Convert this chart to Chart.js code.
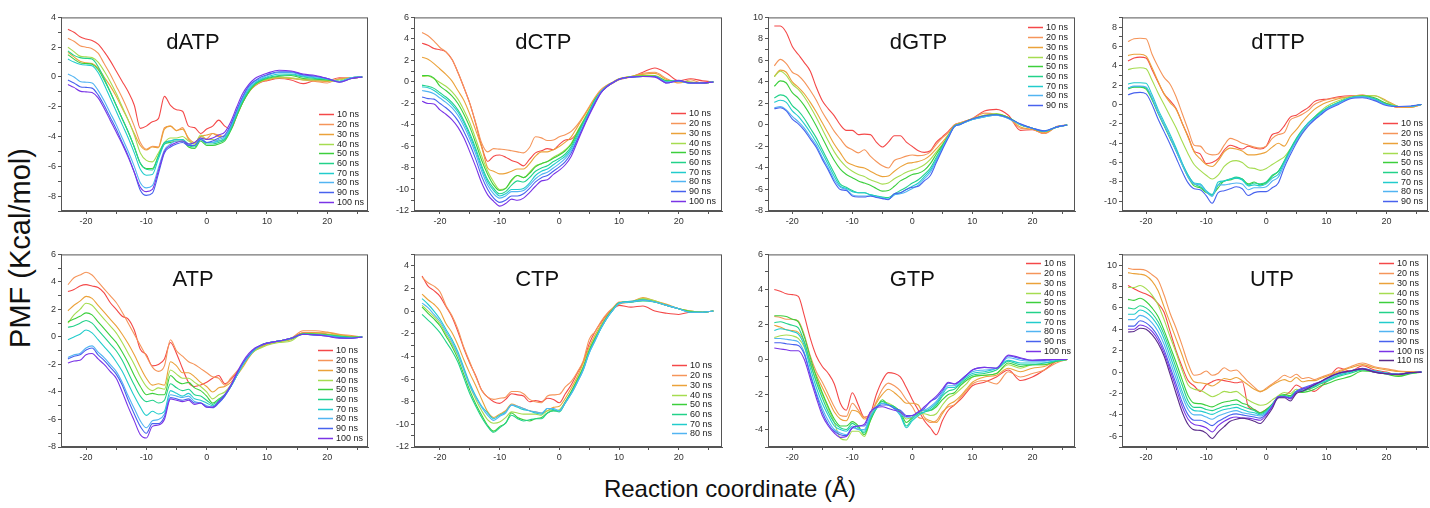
<!DOCTYPE html>
<html>
<head>
<meta charset="utf-8">
<script src="https://cdn.jsdelivr.net/npm/chart.js@4.4.0/dist/chart.umd.min.js"></script>
<style>
  body { margin: 0; width: 1430px; height: 508px; background: #fff; position: relative; overflow: hidden; font-family: Arial, "Liberation Sans", sans-serif; }
  canvas { position: absolute; }
  #ylab { position: absolute; left: 20px; top: 248px; transform: translate(-50%, -50%) rotate(-90deg); font-size: 29px; white-space: nowrap; color: #111; }
  #xlab { position: absolute; left: 730px; top: 489px; transform: translate(-50%, -50%); font-size: 24px; white-space: nowrap; color: #111; }
</style>
</head>
<body>
<div id="ylab">PMF (Kcal/mol)</div>
<div id="xlab">Reaction coordinate (Å)</div>
<script>
// reaction coordinate (Å) shared by every curve
const xs = [-23,-22,-21,-20,-19,-18,-17,-16,-15,-14, -13,-12,-11,-10,-9,-8,-7,-6,-5,-4, -3,-2,-1,0,1,2,3,4,5,6, 7,8,9,10,12,14,16,18,20,22,24,25.8];

const nsLabels = ['10 ns','20 ns','30 ns','40 ns','50 ns','60 ns','70 ns','80 ns','90 ns','100 ns','110 ns'];

// PMF (kcal/mol), one row per simulation length
const dATP = [
  [3.2,3.0,2.7,2.55,2.45,2.2,1.7,1.1,0.4,-0.3, -1.0,-1.9,-3.45,-3.3,-3.0,-2.8,-1.3,-1.9,-2.2,-2.3, -3.3,-3.4,-3.8,-3.5,-3.3,-2.9,-3.3,-3.5,-2.6,-1.7, -1.0,-0.6,-0.35,-0.25,-0.1,-0.2,-0.45,-0.25,-0.25,-0.05,-0.1,0],
  [2.6,2.4,2.1,2.0,1.9,1.6,0.9,0.2,-0.6,-1.4, -2.3,-3.3,-4.4,-4.85,-4.65,-4.7,-3.4,-3.3,-3.6,-3.4, -4.2,-4.5,-4.0,-4.15,-3.8,-3.9,-4.0,-3.4,-2.5,-1.6, -1.0,-0.55,-0.3,-0.2,0.0,-0.1,-0.2,-0.3,-0.4,-0.1,-0.05,0],
  [1.65,1.35,1.05,0.95,0.9,0.6,0.0,-0.6,-1.3,-2.1, -2.9,-3.8,-4.6,-4.9,-4.7,-4.75,-3.5,-3.3,-3.6,-3.5, -4.1,-4.4,-4.0,-3.9,-3.8,-4.0,-4.0,-3.4,-2.5,-1.6, -1.0,-0.55,-0.3,-0.2,-0.05,-0.1,-0.15,-0.25,-0.3,-0.15,-0.05,0],
  [2.0,1.7,1.4,1.35,1.3,1.0,0.4,-0.3,-1.1,-2.0, -2.9,-3.9,-5.1,-5.6,-5.7,-5.1,-4.4,-4.1,-4.1,-4.0, -4.3,-4.5,-3.9,-4.2,-4.2,-4.3,-4.2,-3.5,-2.6,-1.7, -1.0,-0.55,-0.3,-0.15,-0.05,-0.05,-0.2,-0.2,-0.25,-0.2,-0.05,0],
  [1.5,1.2,0.95,0.9,0.85,0.5,-0.2,-1.0,-1.9,-2.8, -3.7,-4.7,-5.8,-6.15,-6.15,-5.3,-4.5,-4.4,-4.3,-4.3, -4.7,-4.8,-4.3,-4.6,-4.6,-4.5,-4.3,-3.6,-2.6,-1.7, -1.0,-0.5,-0.25,-0.1,0.05,0.1,-0.1,-0.15,-0.2,-0.3,-0.1,0],
  [1.75,1.45,1.3,1.25,1.2,0.7,-0.1,-1.0,-1.9,-2.8, -3.7,-4.7,-5.8,-6.2,-6.25,-5.3,-4.4,-4.3,-4.2,-4.2, -4.6,-4.7,-4.2,-4.5,-4.5,-4.4,-4.2,-3.5,-2.5,-1.6, -0.9,-0.45,-0.2,-0.05,0.1,0.15,0.0,-0.1,-0.15,-0.3,-0.05,0],
  [1.2,1.0,0.85,0.8,0.75,0.3,-0.5,-1.4,-2.3,-3.2, -4.1,-5.1,-6.2,-6.6,-6.55,-5.5,-4.5,-4.3,-4.2,-4.2, -4.5,-4.6,-4.1,-4.4,-4.4,-4.3,-4.1,-3.4,-2.4,-1.5, -0.8,-0.4,-0.15,0.0,0.2,0.2,0.05,-0.05,-0.15,-0.3,-0.05,0],
  [0.2,0.0,-0.3,-0.35,-0.4,-0.9,-1.6,-2.4,-3.2,-4.1, -5.0,-6.0,-7.1,-7.45,-7.3,-6.1,-4.9,-4.5,-4.3,-4.3, -4.6,-4.6,-4.2,-4.4,-4.4,-4.2,-4.0,-3.3,-2.3,-1.4, -0.7,-0.3,-0.1,0.1,0.3,0.3,0.1,0.0,-0.1,-0.3,-0.05,0],
  [-0.2,-0.4,-0.65,-0.7,-0.75,-1.2,-1.9,-2.7,-3.5,-4.4, -5.3,-6.4,-7.6,-7.95,-7.8,-6.5,-5.1,-4.7,-4.5,-4.4, -4.6,-4.6,-4.2,-4.4,-4.3,-4.1,-3.9,-3.2,-2.2,-1.3, -0.6,-0.25,0.0,0.15,0.35,0.35,0.15,0.05,-0.1,-0.35,-0.1,0],
  [-0.5,-0.7,-0.95,-1.0,-1.05,-1.4,-2.1,-2.9,-3.7,-4.5, -5.4,-6.4,-7.4,-7.7,-7.55,-6.3,-5.0,-4.6,-4.4,-4.3, -4.5,-4.4,-4.1,-4.2,-4.1,-3.9,-3.7,-3.0,-2.0,-1.1, -0.5,-0.1,0.1,0.25,0.45,0.4,0.2,0.1,-0.1,-0.35,-0.1,0]
];

const dCTP = [
  [3.6,3.4,3.1,3.0,2.8,2.1,0.9,-0.5,-2.0,-3.9, -6.0,-7.4,-6.9,-6.8,-7.0,-7.3,-7.5,-7.8,-7.2,-6.6, -6.4,-6.2,-6.3,-5.8,-5.4,-5.3,-4.7,-3.8,-2.8,-1.8, -0.9,-0.4,-0.1,0.2,0.45,0.9,1.3,0.8,0.1,0.3,0.1,0],
  [4.6,4.3,3.8,3.2,2.8,2.1,0.9,-0.5,-2.0,-3.8, -5.7,-6.5,-6.2,-6.25,-6.3,-6.4,-6.5,-6.6,-6.1,-5.1, -5.2,-5.45,-5.4,-5.1,-4.9,-4.6,-4.0,-3.2,-2.3,-1.4, -0.7,-0.3,0.0,0.3,0.5,0.8,0.9,0.3,-0.1,0.2,-0.1,0],
  [2.3,2.1,1.7,1.2,0.7,0.1,-0.8,-1.7,-3.0,-4.5, -6.1,-8.0,-8.3,-8.55,-8.5,-8.3,-8.1,-8.1,-7.6,-6.9, -6.5,-6.5,-6.3,-6.0,-5.6,-5.1,-4.2,-3.3,-2.4,-1.5, -0.8,-0.3,0.0,0.3,0.5,0.7,0.8,0.2,0.0,0.0,-0.1,0],
  [0.5,0.55,0.3,-0.05,-0.4,-0.9,-1.6,-2.6,-3.8,-5.3, -6.9,-8.3,-9.3,-10.0,-9.9,-9.2,-8.7,-8.9,-8.4,-7.8, -7.6,-7.4,-7.0,-6.7,-6.3,-5.7,-4.6,-3.6,-2.6,-1.6, -0.9,-0.4,-0.05,0.25,0.5,0.6,0.6,0.1,0.05,0.0,-0.1,0],
  [0.6,0.6,0.35,-0.4,-0.8,-1.3,-2.0,-3.0,-4.2,-5.7, -7.3,-8.6,-9.6,-10.1,-9.9,-9.1,-8.7,-8.9,-8.5,-7.9, -7.6,-7.4,-7.1,-6.8,-6.4,-5.8,-4.7,-3.7,-2.7,-1.6, -0.9,-0.4,-0.05,0.25,0.5,0.55,0.55,0.1,0.1,-0.05,-0.1,0],
  [-0.3,-0.4,-0.6,-1.0,-1.4,-1.9,-2.6,-3.6,-4.8,-6.2, -7.8,-9.1,-9.9,-10.4,-10.2,-9.6,-9.2,-9.3,-8.9,-8.3, -8.0,-7.8,-7.4,-7.1,-6.7,-6.0,-4.9,-3.8,-2.7,-1.7, -0.9,-0.4,-0.05,0.25,0.45,0.5,0.5,0.05,0.1,-0.1,-0.1,0],
  [-0.45,-0.55,-0.8,-1.2,-1.6,-2.1,-2.8,-3.8,-5.0,-6.4, -8.0,-9.3,-10.1,-10.6,-10.4,-10.0,-10.0,-9.9,-9.4,-8.7, -8.3,-8.1,-7.7,-7.3,-6.9,-6.2,-5.1,-3.9,-2.8,-1.7, -0.9,-0.4,-0.05,0.25,0.45,0.5,0.5,0.0,0.1,-0.15,-0.1,0],
  [-0.8,-0.9,-1.1,-1.5,-1.9,-2.4,-3.1,-4.1,-5.3,-6.7, -8.3,-9.6,-10.4,-10.8,-10.6,-10.2,-10.2,-10.1,-9.6,-9.0, -8.6,-8.4,-8.0,-7.6,-7.1,-6.4,-5.3,-4.1,-2.9,-1.8, -0.9,-0.4,-0.05,0.25,0.45,0.5,0.5,0.0,0.1,-0.15,-0.1,0],
  [-1.4,-1.55,-1.6,-2.0,-2.4,-2.9,-3.6,-4.6,-5.8,-7.2, -8.8,-10.0,-10.8,-11.2,-11.0,-10.6,-10.6,-10.4,-9.9,-9.3, -8.9,-8.7,-8.3,-7.9,-7.4,-6.6,-5.4,-4.2,-3.0,-1.9, -1.0,-0.4,-0.05,0.25,0.45,0.5,0.5,-0.1,0.1,-0.1,-0.1,0],
  [-1.8,-2.0,-2.05,-2.6,-3.0,-3.5,-4.2,-5.2,-6.5,-7.9, -9.4,-10.5,-11.1,-11.55,-11.3,-10.9,-11.0,-10.8,-10.3,-9.7, -9.2,-9.1,-8.6,-8.2,-7.7,-6.9,-5.6,-4.3,-3.1,-2.0, -1.0,-0.45,-0.05,0.25,0.45,0.5,0.45,-0.1,0.15,-0.1,-0.1,0]
];

const dGTP = [
  [9.2,9.2,8.6,7.3,6.55,5.8,5.0,3.5,2.25,1.5, 0.85,0.0,-0.5,-0.5,-0.9,-0.85,-0.9,-1.6,-2.05,-1.6, -1.0,-1.0,-1.6,-2.0,-2.4,-2.55,-2.4,-1.6,-1.1,-0.6, 0.0,0.2,0.4,0.6,1.3,1.45,0.9,-0.5,-0.45,-0.8,-0.15,0],
  [5.5,6.1,5.7,4.9,4.6,4.0,3.2,2.3,1.2,0.3, -0.6,-1.3,-2.0,-2.3,-2.6,-2.3,-2.9,-3.4,-3.8,-4.0, -3.3,-3.1,-2.9,-2.8,-2.85,-2.8,-2.5,-1.8,-1.2,-0.7, 0.0,0.2,0.4,0.6,1.1,1.0,0.7,-0.3,-0.4,-0.8,-0.2,0],
  [4.5,5.1,4.9,4.0,3.5,2.9,2.1,1.2,0.2,-0.8, -1.8,-2.6,-3.4,-3.7,-3.9,-4.0,-4.3,-4.6,-4.8,-4.75, -4.3,-3.9,-3.6,-3.5,-3.4,-3.2,-2.8,-2.2,-1.6,-0.9, -0.1,0.1,0.35,0.55,0.9,1.0,0.7,-0.2,-0.4,-0.7,-0.2,0],
  [4.5,5.0,4.6,3.8,3.3,2.6,1.7,0.7,-0.4,-1.5, -2.5,-3.3,-3.9,-4.3,-4.6,-4.8,-5.1,-5.3,-5.5,-5.4, -5.0,-4.7,-4.4,-4.2,-4.0,-3.7,-3.2,-2.5,-1.8,-1.0, -0.1,0.1,0.35,0.55,0.9,1.05,0.7,0.0,-0.3,-0.6,-0.2,0],
  [3.6,4.1,3.9,3.0,2.5,1.8,0.9,-0.1,-1.2,-2.3, -3.3,-4.1,-4.6,-4.9,-5.2,-5.4,-5.6,-5.9,-6.15,-6.1, -5.7,-5.2,-4.9,-4.6,-4.5,-4.2,-3.6,-2.7,-1.9,-1.0, -0.1,0.1,0.35,0.55,0.85,1.0,0.7,0.05,-0.3,-0.6,-0.2,0],
  [2.5,2.8,2.6,1.8,1.3,0.6,-0.3,-1.2,-2.3,-3.4, -4.5,-5.5,-5.8,-6.1,-6.3,-6.3,-6.5,-6.6,-6.7,-6.75, -6.4,-6.1,-5.8,-5.4,-5.1,-4.6,-4.0,-3.0,-2.0,-1.0, -0.1,0.1,0.3,0.5,0.8,0.95,0.65,0.05,-0.3,-0.6,-0.2,0],
  [2.1,2.3,2.1,1.3,0.8,0.1,-0.7,-1.6,-2.6,-3.7, -4.8,-5.7,-5.9,-6.2,-6.3,-6.3,-6.5,-6.6,-6.75,-6.9, -6.5,-6.3,-6.0,-5.7,-5.4,-4.8,-4.2,-3.2,-2.1,-1.1, -0.15,0.05,0.3,0.5,0.75,0.9,0.6,0.05,-0.3,-0.6,-0.2,0],
  [1.6,1.7,1.4,0.8,0.3,-0.3,-1.1,-1.9,-3.0,-4.0, -5.1,-5.8,-6.0,-6.5,-6.6,-6.6,-6.6,-6.7,-6.8,-6.9, -6.5,-6.4,-6.2,-5.9,-5.6,-5.0,-4.4,-3.3,-2.2,-1.1, -0.15,0.05,0.3,0.5,0.75,0.9,0.6,0.05,-0.3,-0.55,-0.2,0],
  [1.5,1.6,1.3,0.55,0.1,-0.5,-1.3,-2.1,-3.2,-4.2, -5.3,-6.0,-6.1,-6.6,-6.7,-6.7,-6.6,-6.75,-6.85,-6.95, -6.4,-6.3,-6.0,-5.8,-5.7,-5.2,-4.7,-3.5,-2.3,-1.2, -0.15,0.05,0.35,0.55,0.85,0.95,0.65,0.1,-0.3,-0.55,-0.2,0]
];

const dTTP = [
  [4.5,4.8,4.9,4.8,3.6,2.3,1.1,0.4,-0.4,-1.9, -3.3,-4.8,-5.1,-6.1,-6.0,-5.6,-4.7,-4.2,-4.4,-4.6, -4.3,-4.5,-4.6,-4.3,-3.1,-2.9,-2.2,-1.3,-1.1,-0.7, -0.3,0.3,0.5,0.55,0.8,0.9,0.9,0.5,0.1,-0.3,-0.2,0],
  [6.5,6.8,6.85,6.8,5.2,3.9,2.8,2.1,0.8,-0.9, -2.6,-4.2,-4.3,-5.0,-5.2,-5.1,-4.2,-3.5,-3.7,-4.0, -4.2,-4.4,-4.5,-4.3,-3.5,-3.1,-2.9,-1.6,-1.3,-1.0, -0.6,0.0,0.3,0.5,0.7,0.8,1.0,0.6,0.1,-0.3,-0.3,0],
  [5.05,5.2,5.2,5.0,3.8,2.4,1.1,0.2,-0.5,-1.9, -3.4,-4.9,-5.6,-6.2,-6.4,-5.8,-4.9,-4.5,-4.6,-4.8, -5.2,-5.2,-5.1,-4.9,-4.4,-4.0,-4.3,-3.3,-2.6,-1.8, -1.1,-0.5,-0.1,0.2,0.6,0.8,0.9,0.9,0.4,-0.2,-0.3,0],
  [3.6,3.75,3.8,3.7,2.5,1.2,0.0,-1.2,-2.4,-3.8, -5.1,-6.2,-6.8,-7.3,-7.7,-7.3,-6.4,-5.9,-5.8,-6.0, -6.5,-6.6,-6.8,-6.6,-6.2,-5.8,-5.4,-4.6,-3.8,-2.9, -2.0,-1.3,-0.7,-0.2,0.4,0.8,0.9,0.9,0.3,-0.2,-0.2,0],
  [1.6,1.8,1.8,1.6,0.5,-0.9,-2.2,-3.5,-4.8,-6.2, -7.5,-8.4,-8.6,-9.1,-9.3,-8.6,-7.9,-7.8,-7.6,-7.7, -8.2,-8.0,-8.3,-8.1,-7.4,-6.9,-5.9,-4.7,-3.6,-2.7, -1.9,-1.4,-0.9,-0.4,0.2,0.7,0.9,0.7,0.1,-0.2,-0.2,0],
  [1.7,1.85,1.85,1.7,0.6,-0.8,-2.1,-3.4,-4.7,-6.1, -7.3,-8.2,-8.5,-9.0,-9.4,-8.3,-7.9,-7.7,-7.5,-7.7, -8.3,-8.1,-8.2,-8.0,-7.3,-6.9,-5.8,-4.6,-3.5,-2.6, -1.9,-1.3,-0.8,-0.4,0.2,0.7,0.8,0.6,0.0,-0.2,-0.2,0],
  [2.1,2.25,2.25,2.2,1.0,-0.5,-1.8,-3.1,-4.5,-6.0, -7.3,-8.1,-8.2,-8.9,-9.3,-8.0,-7.9,-7.7,-7.6,-7.8, -8.4,-8.3,-8.4,-8.2,-7.6,-7.2,-6.0,-4.8,-3.7,-2.7, -1.9,-1.4,-0.9,-0.4,0.2,0.7,0.8,0.6,0.0,-0.2,-0.2,0],
  [1.7,1.9,1.9,1.8,0.7,-0.8,-2.1,-3.4,-4.8,-6.2, -7.5,-8.2,-8.3,-9.0,-9.5,-8.3,-8.3,-8.2,-8.1,-8.2, -8.8,-8.6,-8.6,-8.5,-7.9,-7.5,-6.2,-4.9,-3.8,-2.8, -2.0,-1.5,-1.0,-0.5,0.1,0.65,0.8,0.5,-0.05,-0.2,-0.2,0],
  [1.0,1.2,1.25,1.1,0.0,-1.5,-2.8,-4.1,-5.5,-6.9, -8.1,-8.7,-8.8,-9.4,-10.2,-9.1,-8.9,-8.7,-8.5,-8.7, -9.4,-9.1,-9.0,-9.0,-8.6,-8.1,-6.5,-5.2,-4.0,-3.0, -2.2,-1.6,-1.1,-0.6,0.0,0.6,0.7,0.4,-0.1,-0.2,-0.15,0]
];

const ATP = [
  [3.3,3.45,3.7,3.8,3.7,3.6,3.2,2.5,2.0,1.5, 1.3,0.5,-0.9,-1.3,-2.1,-2.0,-1.6,-0.4,-1.2,-2.3, -3.3,-3.6,-3.5,-3.3,-3.0,-2.8,-3.4,-3.1,-2.6,-2.0, -1.4,-0.9,-0.7,-0.5,-0.3,-0.1,0.3,0.3,0.2,0.1,0.0,0],
  [3.8,4.3,4.5,4.7,4.5,4.0,3.5,3.0,2.5,1.8, 1.0,0.2,-0.6,-1.4,-2.2,-2.5,-2.1,-0.2,-1.0,-1.4, -1.8,-2.0,-2.3,-2.6,-2.9,-3.0,-3.5,-3.0,-2.5,-2.0, -1.4,-0.9,-0.7,-0.5,-0.3,-0.1,0.45,0.45,0.35,0.2,0.1,0],
  [1.9,2.3,2.6,2.95,2.8,2.3,1.8,1.3,0.8,0.2, -0.5,-1.3,-2.2,-3.0,-3.5,-3.4,-3.5,-1.8,-2.1,-2.6, -2.6,-2.9,-3.3,-3.6,-4.0,-3.7,-3.6,-3.3,-2.8,-2.2, -1.5,-1.0,-0.75,-0.55,-0.35,-0.2,0.3,0.3,0.3,0.15,0.05,0],
  [1.0,1.6,2.0,2.45,2.3,1.8,1.3,0.8,0.3,-0.4, -1.2,-2.0,-2.9,-3.6,-3.9,-3.7,-3.8,-2.4,-2.7,-3.0, -3.0,-3.3,-3.6,-4.0,-4.5,-4.2,-4.0,-3.5,-2.8,-2.1, -1.4,-1.0,-0.8,-0.6,-0.4,-0.3,0.25,0.25,0.2,0.1,0.0,0],
  [1.1,1.3,1.5,1.75,1.6,1.1,0.6,0.1,-0.4,-1.1, -1.9,-2.8,-3.6,-4.2,-4.1,-4.2,-4.2,-2.8,-3.2,-3.4, -3.3,-3.7,-3.9,-4.3,-4.8,-4.5,-4.2,-3.6,-2.8,-2.0, -1.4,-0.9,-0.6,-0.45,-0.3,-0.1,0.25,0.2,0.15,0.05,0.0,0],
  [0.7,0.8,1.0,1.2,1.0,0.5,0.0,-0.5,-1.0,-1.7, -2.6,-3.5,-4.3,-4.7,-4.6,-4.8,-4.6,-3.4,-3.7,-3.9, -3.8,-4.2,-4.3,-4.6,-4.9,-4.6,-4.2,-3.6,-2.8,-2.0, -1.4,-0.9,-0.65,-0.45,-0.3,-0.15,0.2,0.2,0.1,0.05,-0.05,0],
  [-0.2,0.0,0.2,0.5,0.3,-0.2,-0.7,-1.2,-1.8,-2.5, -3.4,-4.3,-5.1,-5.7,-5.4,-5.6,-5.4,-3.9,-4.1,-4.3, -4.1,-4.5,-4.6,-4.8,-5.0,-4.7,-4.2,-3.6,-2.8,-2.0, -1.4,-0.9,-0.6,-0.45,-0.3,-0.1,0.2,0.15,0.1,0.0,-0.05,0],
  [-1.5,-1.3,-1.2,-0.8,-0.65,-1.1,-1.5,-2.0,-2.5,-3.3, -4.3,-5.2,-6.1,-6.6,-6.1,-6.0,-5.6,-4.2,-4.3,-4.4, -4.3,-4.7,-4.8,-5.0,-5.1,-4.8,-4.3,-3.6,-2.8,-2.0, -1.4,-0.9,-0.6,-0.45,-0.3,-0.1,0.2,0.15,0.1,-0.05,-0.1,0],
  [-1.6,-1.4,-1.3,-0.95,-0.8,-1.3,-1.7,-2.2,-2.7,-3.5, -4.6,-5.6,-6.5,-7.0,-6.3,-6.3,-5.8,-4.4,-4.5,-4.6, -4.5,-4.8,-4.8,-5.1,-5.15,-4.8,-4.3,-3.6,-2.7,-1.9, -1.3,-0.85,-0.6,-0.45,-0.3,-0.1,0.2,0.15,0.05,-0.05,-0.1,0],
  [-1.9,-1.75,-1.7,-1.3,-1.2,-1.6,-2.0,-2.5,-3.0,-4.0, -5.1,-6.1,-7.1,-7.35,-6.5,-6.4,-6.0,-4.5,-4.6,-4.7, -4.6,-4.9,-4.8,-5.1,-5.1,-4.7,-4.2,-3.5,-2.6,-1.8, -1.2,-0.8,-0.6,-0.45,-0.3,-0.1,0.2,0.15,0.05,-0.1,-0.1,0]
];

const CTP = [
  [3.1,2.2,1.8,1.3,0.4,-0.5,-1.8,-3.3,-4.6,-5.7, -7.0,-7.6,-8.0,-8.15,-7.8,-7.3,-7.4,-7.5,-8.0,-7.9, -8.0,-7.7,-7.8,-8.1,-7.3,-6.5,-5.5,-4.5,-2.9,-1.8, -1.0,-0.3,0.2,0.5,0.35,0.45,0.0,-0.2,-0.3,-0.1,-0.1,0],
  [3.0,2.5,2.2,1.7,0.5,-0.4,-1.6,-3.2,-4.5,-5.8, -7.0,-7.6,-7.8,-7.7,-7.6,-7.1,-7.1,-7.3,-7.8,-8.0, -8.1,-7.5,-7.4,-7.35,-6.7,-6.2,-5.4,-4.4,-2.5,-1.8, -0.9,-0.2,0.3,0.8,0.85,1.1,0.8,0.5,0.2,0.0,-0.1,0],
  [1.5,1.0,0.6,0.0,-1.1,-1.9,-3.0,-4.3,-5.5,-6.6, -7.8,-8.9,-9.4,-9.1,-8.8,-8.2,-8.4,-8.6,-8.8,-8.9, -9.0,-8.8,-8.5,-8.4,-7.7,-6.8,-5.8,-4.6,-3.2,-2.1, -1.2,-0.4,0.2,0.6,0.8,1.2,0.9,0.6,0.2,0.0,-0.1,0],
  [0.5,0.0,-0.5,-1.1,-2.0,-2.9,-3.9,-5.2,-6.6,-7.8, -8.8,-9.6,-9.9,-9.8,-9.4,-8.9,-9.0,-9.1,-9.1,-9.1, -9.2,-8.8,-8.8,-8.7,-8.0,-7.1,-6.0,-4.9,-3.4,-2.3, -1.3,-0.5,0.2,0.7,0.8,1.1,0.9,0.5,0.2,0.0,-0.1,0],
  [0.35,-0.2,-0.7,-1.3,-2.2,-3.1,-4.2,-5.6,-7.0,-8.2, -9.2,-10.1,-10.6,-10.2,-9.9,-9.0,-9.4,-9.6,-9.7,-9.5, -9.4,-9.0,-8.8,-8.8,-8.0,-7.1,-6.1,-5.0,-3.5,-2.4, -1.4,-0.5,0.2,0.7,0.8,1.0,0.8,0.5,0.2,-0.05,-0.1,0],
  [-0.3,-0.8,-1.3,-1.9,-2.7,-3.5,-4.5,-5.9,-7.3,-8.4, -9.4,-10.2,-10.7,-10.3,-9.9,-9.2,-9.5,-9.7,-9.6,-9.5, -9.5,-9.0,-8.8,-8.9,-8.1,-7.2,-6.2,-5.1,-3.6,-2.5, -1.5,-0.6,0.1,0.7,0.8,0.9,0.8,0.5,0.2,-0.1,-0.1,0],
  [1.1,0.6,0.0,-0.7,-1.6,-2.5,-3.6,-5.0,-6.4,-7.5, -8.4,-9.0,-9.5,-9.2,-8.9,-8.3,-8.5,-8.7,-8.8,-9.0, -9.1,-8.6,-8.7,-8.8,-8.1,-7.3,-6.3,-5.2,-3.7,-2.6, -1.5,-0.6,0.1,0.7,0.85,1.0,0.8,0.5,0.2,-0.1,-0.1,0],
  [0.7,0.3,-0.3,-0.9,-1.8,-2.7,-3.8,-5.2,-6.6,-7.6, -8.5,-9.2,-9.65,-9.3,-9.0,-8.3,-8.4,-8.6,-8.8,-8.9, -9.0,-8.6,-8.6,-8.8,-8.1,-7.3,-6.3,-5.2,-3.7,-2.6, -1.5,-0.6,0.1,0.65,0.8,0.95,0.8,0.5,0.2,-0.1,-0.1,0]
];

const GTP = [
  [4.0,3.9,3.75,3.7,3.6,2.5,1.2,0.2,-0.4,-0.8, -1.4,-2.5,-2.9,-1.9,-2.6,-3.3,-3.1,-2.0,-1.2,-0.75, -0.8,-1.0,-1.6,-2.3,-2.9,-3.5,-3.9,-4.3,-3.5,-2.9, -2.6,-2.3,-1.9,-1.5,-1.3,-1.0,-0.6,-1.2,-1.0,-0.6,-0.1,0],
  [2.45,2.4,2.3,2.3,2.2,1.4,0.2,-0.7,-1.3,-2.0, -2.7,-3.2,-3.25,-2.5,-2.9,-3.3,-3.1,-2.4,-1.7,-1.35, -1.5,-1.8,-2.3,-2.7,-3.3,-3.4,-3.6,-3.5,-3.0,-2.7, -2.6,-2.2,-1.8,-1.4,-1.2,-1.4,-0.7,-1.0,-0.8,-0.6,-0.2,0],
  [1.95,1.85,1.7,1.65,1.55,1.0,-0.1,-0.9,-1.6,-2.3, -3.0,-3.4,-3.5,-2.9,-3.0,-3.4,-3.2,-2.5,-2.0,-1.7, -1.9,-2.2,-2.5,-2.5,-2.6,-3.3,-3.5,-3.6,-3.1,-2.6, -2.4,-2.1,-1.7,-1.3,-1.0,-0.9,-0.5,-0.7,-0.5,-0.4,-0.1,0],
  [1.25,1.35,1.4,1.35,1.2,0.7,-0.3,-1.2,-2.0,-2.8, -3.6,-4.5,-4.6,-4.1,-4.1,-4.4,-3.5,-2.7,-2.4,-2.5, -2.7,-3.0,-3.4,-3.3,-3.1,-3.1,-3.2,-3.1,-2.6,-2.2, -2.0,-1.7,-1.4,-1.0,-0.9,-0.8,-0.3,-0.5,-0.3,-0.3,-0.1,0],
  [2.5,2.5,2.45,2.3,2.15,1.3,0.1,-1.0,-1.9,-2.7, -3.4,-3.8,-3.8,-3.55,-3.8,-4.3,-3.5,-2.8,-2.3,-2.6, -2.7,-3.0,-3.6,-3.3,-3.0,-2.9,-2.9,-2.7,-2.3,-2.0, -1.9,-1.5,-1.2,-1.0,-0.9,-0.8,-0.2,-0.4,-0.3,-0.3,-0.1,0],
  [2.1,2.15,2.05,1.95,1.8,1.0,-0.2,-1.3,-2.2,-3.0, -3.6,-3.9,-4.0,-3.65,-3.9,-4.2,-3.4,-2.8,-2.4,-2.6, -2.7,-3.1,-3.8,-3.4,-3.1,-3.0,-2.9,-2.6,-2.1,-1.8, -1.7,-1.4,-1.1,-0.9,-0.8,-0.6,-0.1,-0.3,-0.3,-0.2,-0.1,0],
  [1.65,1.75,1.7,1.6,1.45,0.8,-0.5,-1.6,-2.5,-3.2, -3.8,-4.0,-4.1,-3.8,-4.0,-4.1,-3.3,-2.8,-2.5,-2.6, -2.8,-3.2,-3.9,-3.5,-3.2,-3.0,-2.8,-2.5,-2.0,-1.6, -1.6,-1.3,-1.0,-0.8,-0.7,-0.5,-0.05,-0.2,-0.2,-0.2,-0.05,0],
  [1.2,1.2,1.15,1.1,1.0,0.4,-0.8,-1.9,-2.8,-3.5, -4.0,-4.2,-4.3,-3.9,-4.0,-4.0,-3.2,-2.7,-2.5,-2.6, -2.8,-3.1,-3.3,-3.3,-3.0,-2.9,-2.7,-2.4,-1.9,-1.5, -1.5,-1.2,-0.9,-0.7,-0.6,-0.5,0.1,-0.05,-0.1,-0.1,0.0,0],
  [0.95,0.95,0.9,0.85,0.8,0.3,-0.9,-2.0,-3.0,-3.7, -4.1,-4.3,-4.35,-3.9,-3.8,-3.8,-3.0,-2.7,-2.6,-2.6, -2.8,-2.9,-3.2,-3.2,-3.0,-2.8,-2.4,-2.2,-1.8,-1.35, -1.4,-1.2,-0.9,-0.6,-0.45,-0.5,0.2,0.05,-0.05,-0.05,0.0,0],
  [0.65,0.6,0.55,0.5,0.5,0.0,-1.1,-2.2,-3.2,-3.8, -4.2,-4.45,-4.4,-3.9,-3.8,-3.7,-3.0,-2.75,-2.7,-2.8, -2.9,-3.0,-3.25,-3.2,-3.0,-2.7,-2.4,-2.1,-1.7,-1.3, -1.4,-1.2,-0.9,-0.6,-0.45,-0.5,0.25,0.1,-0.05,0.0,0.0,0]
];

const UTP = [
  [8.1,7.8,7.5,7.3,7.0,6.4,5.6,3.8,2.0,0.5, -0.8,-1.3,-1.8,-1.2,-0.9,-0.7,-0.8,-0.9,-1.0,-0.9, -3.2,-3.5,-3.8,-3.5,-3.0,-2.4,-2.2,-1.8,-1.2,-1.5, -1.6,-1.8,-1.4,-0.9,0.4,0.1,0.6,0.2,0.0,-0.3,0.0,0],
  [9.7,9.6,9.6,9.5,9.1,8.6,7.2,5.5,4.1,2.5, 0.8,-0.3,-0.2,0.1,-0.3,-0.1,0.4,0.1,0.2,-0.3, -0.9,-1.4,-1.85,-1.5,-1.1,-0.7,-0.3,-0.5,-0.2,-0.6, -0.5,-0.7,-0.5,-0.3,0.1,0.5,0.85,0.5,0.3,0.1,0.05,0],
  [9.3,9.2,9.15,9.0,8.5,7.6,6.1,4.6,3.1,1.6, 0.0,-0.9,-1.0,-1.1,-1.3,-1.0,-0.6,-0.7,-0.5,-0.8, -1.2,-1.6,-1.8,-1.6,-1.2,-0.9,-0.7,-0.9,-0.5,-0.9, -0.8,-0.8,-0.6,-0.4,0.0,0.4,0.7,0.4,0.2,0.05,0.0,0],
  [7.9,7.9,8.1,7.8,7.2,6.3,4.9,3.3,1.8,0.2, -1.2,-1.6,-1.7,-2.0,-2.3,-2.1,-1.8,-1.9,-1.8,-2.2, -2.6,-2.9,-3.1,-3.0,-2.6,-2.2,-1.9,-2.0,-1.6,-1.8, -1.6,-1.4,-1.1,-0.8,-0.3,0.1,0.2,0.1,-0.1,-0.3,-0.1,0],
  [6.8,6.7,6.9,6.6,6.0,5.2,3.9,2.4,0.9,-0.7, -2.2,-2.9,-2.95,-3.1,-3.25,-3.0,-2.8,-2.7,-2.6,-2.9, -3.1,-3.5,-3.8,-3.5,-3.0,-2.3,-2.1,-2.2,-1.8,-1.9, -1.8,-1.6,-1.3,-1.1,-0.7,-0.4,0.1,0.0,-0.2,-0.4,-0.15,0],
  [6.0,5.9,6.2,6.0,5.5,4.7,3.5,2.0,0.4,-1.2, -2.7,-3.3,-3.3,-3.5,-3.6,-3.4,-3.2,-3.1,-3.0,-3.2, -3.4,-3.6,-3.9,-3.6,-3.0,-2.3,-2.2,-2.3,-1.8,-1.8, -1.6,-1.4,-1.1,-0.9,-0.4,-0.1,0.2,0.1,-0.1,-0.2,-0.1,0],
  [5.4,5.4,5.8,5.6,5.1,4.3,3.1,1.5,-0.1,-1.8, -3.1,-3.6,-3.65,-3.8,-3.95,-3.7,-3.5,-3.4,-3.3,-3.5, -3.7,-3.8,-4.0,-3.7,-3.1,-2.4,-2.3,-2.4,-1.8,-1.7, -1.5,-1.3,-1.0,-0.8,-0.3,0.0,0.3,0.1,-0.1,-0.2,-0.05,0],
  [4.9,4.9,5.3,5.1,4.6,3.8,2.6,1.0,-0.6,-2.2, -3.5,-4.0,-4.0,-4.2,-4.4,-4.1,-3.9,-3.7,-3.6,-3.8, -3.9,-4.0,-4.1,-3.8,-3.1,-2.3,-2.3,-2.4,-1.8,-1.6, -1.4,-1.2,-1.0,-0.7,-0.2,0.1,0.3,0.05,-0.1,-0.2,-0.05,0],
  [4.3,4.3,4.8,4.6,4.1,3.3,2.1,0.5,-1.1,-2.8, -4.0,-4.5,-4.5,-4.7,-5.0,-4.6,-4.3,-4.0,-3.9,-4.0, -4.1,-4.2,-4.3,-3.9,-3.2,-2.3,-2.3,-2.4,-1.8,-1.5, -1.3,-1.1,-0.9,-0.6,-0.1,0.1,0.35,0.05,-0.15,-0.2,-0.05,0],
  [4.0,4.0,4.4,4.25,3.8,3.0,1.8,0.2,-1.5,-3.2, -4.4,-4.9,-5.0,-5.2,-5.6,-5.0,-4.6,-4.3,-4.2,-4.3, -4.3,-4.4,-4.5,-4.0,-3.2,-2.3,-2.3,-2.5,-1.9,-1.6, -1.4,-1.1,-0.9,-0.6,-0.1,0.1,0.3,0.0,-0.15,-0.2,-0.05,0],
  [3.75,3.8,4.1,4.0,3.5,2.7,1.5,-0.2,-2.0,-3.7, -4.9,-5.4,-5.45,-5.7,-6.2,-5.6,-5.1,-4.6,-4.4,-4.3, -4.4,-4.6,-4.8,-4.2,-3.4,-2.4,-2.4,-2.7,-2.0,-1.8, -1.5,-1.2,-0.9,-0.6,-0.1,0.1,0.3,0.0,-0.15,-0.2,-0.05,0]
];

const lineColors = ['#f44848','#f5955a','#eba23a','#a6dc50','#3ccf3c','#22d28a','#22cccc','#52b4f2','#4862ee','#7a34e6','#5a2a8a'];

const FONT = 'Arial, "Liberation Sans", sans-serif';
const AXIS = '#555';

// box = plot area [left, top, right, bottom] in page pixels
const panels = [
  { title: 'dATP', rows: dATP, box: [61, 16, 368, 211],    x: [-24.15, 26.75], y: [-9, 4],   tx: 0.43, leg: [258, 97] },
  { title: 'dCTP', rows: dCTP, box: [414, 16, 722, 211],   x: [-24.35, 27.25], y: [-12, 6],  tx: 0.42, leg: [257, 96] },
  { title: 'dGTP', rows: dGTP, box: [768, 16, 1075, 211],  x: [-24.05, 27.1],  y: [-8, 10],  tx: 0.49, leg: [260, 10] },
  { title: 'dTTP', rows: dTTP, box: [1122, 16, 1428, 211], x: [-24, 26.9],     y: [-11, 9],  tx: 0.51, leg: [261, 106] },
  { title: 'ATP',  rows: ATP,  box: [61, 253, 368, 447],   x: [-24.15, 26.75], y: [-8, 6],   tx: 0.43, leg: [257, 96] },
  { title: 'CTP',  rows: CTP,  box: [414, 253, 722, 447],  x: [-24.35, 27.25], y: [-12, 5],  tx: 0.40, leg: [258, 111] },
  { title: 'GTP',  rows: GTP,  box: [768, 253, 1075, 447], x: [-24.05, 27.1],  y: [-5, 6],   tx: 0.47, leg: [258, 9] },
  { title: 'UTP',  rows: UTP,  box: [1122, 253, 1428, 447], x: [-24, 26.9],    y: [-7, 11],  tx: 0.49, leg: [257, 9] }
];

const panelDecor = {
  id: 'panelDecor',
  afterDraw(chart, args, opts) {
    const { ctx, chartArea: a } = chart;
    ctx.save();
    ctx.strokeStyle = AXIS;
    ctx.lineWidth = 1;
    ctx.strokeRect(a.left + 0.5, a.top + 0.5, a.right - a.left - 1, a.bottom - a.top - 1);

    ctx.fillStyle = '#111';
    ctx.font = '22px ' + FONT;
    ctx.textAlign = 'center';
    ctx.textBaseline = 'middle';
    ctx.fillText(opts.title, a.left + (a.right - a.left) * opts.tx, a.top + 26);

    ctx.font = '9px ' + FONT;
    ctx.textAlign = 'left';
    chart.data.datasets.forEach((ds, i) => {
      const y = Math.round(a.top + opts.leg[1] + i * 9.7) + 0.5;
      const x = a.left + opts.leg[0];
      ctx.strokeStyle = ds.borderColor;
      ctx.lineWidth = 1.5;
      ctx.beginPath();
      ctx.moveTo(x, y);
      ctx.lineTo(x + 15, y);
      ctx.stroke();
      ctx.fillStyle = '#222';
      ctx.fillText(ds.label, x + 18, y + 0.5);
    });
    ctx.restore();
  }
};

function axisTicks(step, every) {
  return {
    stepSize: step,
    includeBounds: false,
    autoSkip: false,
    maxRotation: 0,
    padding: 2,
    color: '#333',
    font: { family: FONT, size: 9 },
    callback: (v) => (Math.abs(v % every) < 1e-9 ? String(v) : '')
  };
}

panels.forEach((p) => {
  p.rows.forEach((r, i) => { if (r.length !== xs.length) console.error(p.title, i, r.length); });
  const [L, T, R, B] = p.box;
  const canvas = document.createElement('canvas');
  canvas.width = R - L + 36;
  canvas.height = B - T + 24;
  canvas.style.left = (L - 34) + 'px';
  canvas.style.top = (T - 6) + 'px';
  document.body.appendChild(canvas);

  new Chart(canvas, {
    type: 'line',
    data: {
      datasets: p.rows.map((row, i) => ({
        label: nsLabels[i],
        data: row.map((y, j) => ({ x: xs[j], y })),
        borderColor: lineColors[i],
        borderWidth: 1.1,
        pointRadius: 0,
        cubicInterpolationMode: 'monotone',
        order: p.rows.length - i
      }))
    },
    options: {
      responsive: false,
      animation: false,
      devicePixelRatio: 1,
      layout: { padding: { top: 6, right: 2, left: 0, bottom: 0 } },
      plugins: {
        legend: { display: false },
        tooltip: { enabled: false },
        panelDecor: { title: p.title, tx: p.tx, leg: p.leg }
      },
      scales: {
        x: {
          type: 'linear',
          min: p.x[0],
          max: p.x[1],
          afterFit: (s) => { s.height = 18; },
          ticks: axisTicks(5, 10),
          grid: { drawOnChartArea: false, tickLength: 3, color: AXIS },
          border: { color: AXIS }
        },
        y: {
          min: p.y[0],
          max: p.y[1],
          afterFit: (s) => { s.width = 34; },
          ticks: axisTicks(1, 2),
          grid: { drawOnChartArea: false, tickLength: 3, color: AXIS },
          border: { color: AXIS }
        }
      }
    },
    plugins: [panelDecor]
  });
});
</script>
</body>
</html>
